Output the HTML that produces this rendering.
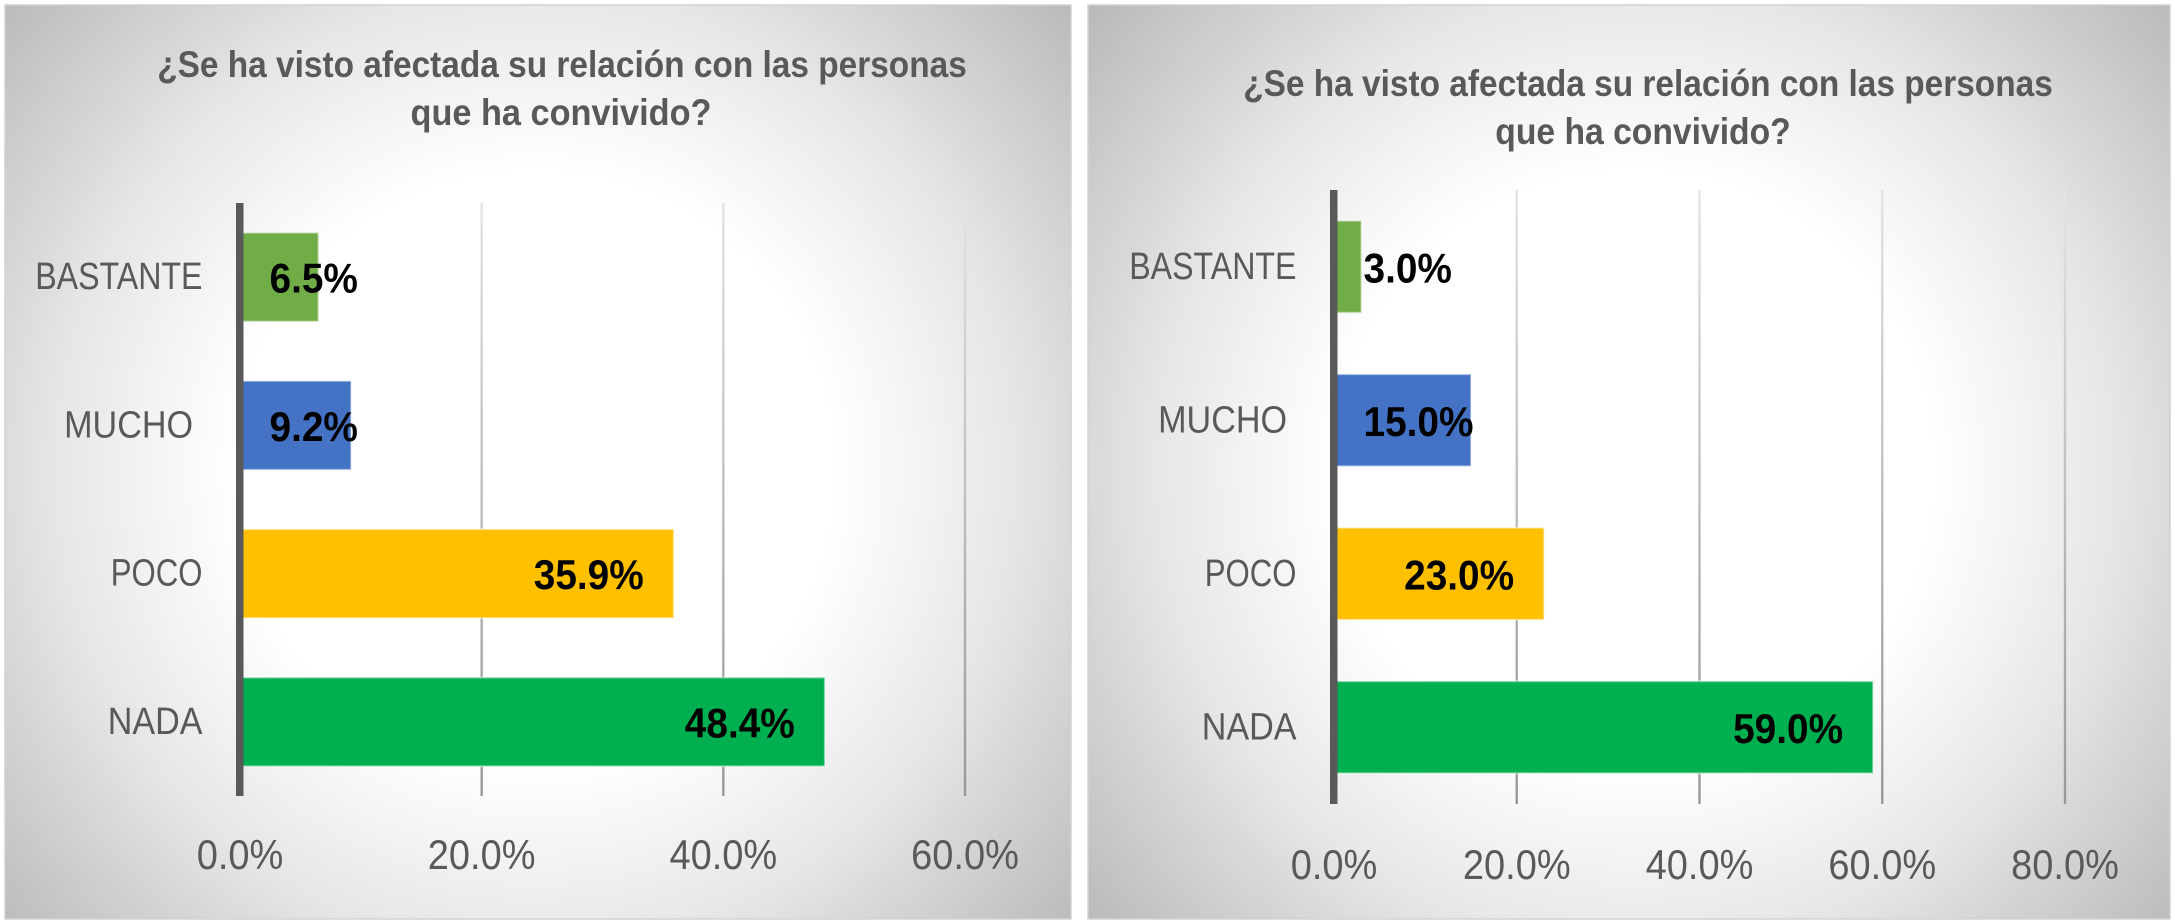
<!DOCTYPE html>
<html lang="es">
<head>
<meta charset="utf-8">
<title>¿Se ha visto afectada su relación con las personas que ha convivido?</title>
<style>
html,body{margin:0;padding:0;background:#fff;width:2175px;height:923px;overflow:hidden}
svg{display:block;font-family:"Liberation Sans",Arial,sans-serif}
</style>
</head>
<body>
<svg id="figure" xmlns="http://www.w3.org/2000/svg" width="2175" height="923" viewBox="0 0 2175 923">
<defs>
<radialGradient id="panelFillLeft" gradientUnits="userSpaceOnUse" cx="535" cy="470" r="730">
<stop offset="0" stop-color="#ffffff"/>
<stop offset="0.41" stop-color="#ffffff"/>
<stop offset="0.66" stop-color="#e6e6e6"/>
<stop offset="0.74" stop-color="#dadada"/>
<stop offset="1" stop-color="#b6b6b6"/>
</radialGradient>
<radialGradient id="panelFillRight" gradientUnits="userSpaceOnUse" cx="1635" cy="470" r="730">
<stop offset="0" stop-color="#ffffff"/>
<stop offset="0.41" stop-color="#ffffff"/>
<stop offset="0.66" stop-color="#e6e6e6"/>
<stop offset="0.74" stop-color="#dadada"/>
<stop offset="1" stop-color="#b6b6b6"/>
</radialGradient>
<linearGradient id="gridFillLeft" gradientUnits="userSpaceOnUse" x1="0" y1="203" x2="0" y2="796">
<stop offset="0" stop-color="#e4e4e4"/>
<stop offset="1" stop-color="#989898"/>
</linearGradient>
<linearGradient id="gridFillRight" gradientUnits="userSpaceOnUse" x1="0" y1="190" x2="0" y2="804">
<stop offset="0" stop-color="#e4e4e4"/>
<stop offset="1" stop-color="#989898"/>
</linearGradient>
</defs>
<rect x="5" y="5" width="1066" height="914" fill="url(#panelFillLeft)" stroke="#d2d2d2" stroke-width="1.5"/>
<rect x="1088" y="5" width="1082" height="914" fill="url(#panelFillRight)" stroke="#d2d2d2" stroke-width="1.5"/>
<g fill="#595959" font-weight="700" font-size="37" text-anchor="middle">
<text transform="translate(562 77) scale(0.903 1)">¿Se ha visto afectada su relación con las personas</text>
<text transform="translate(561 125) scale(0.927 1)">que ha convivido?</text>
</g>
<g fill="#595959" font-weight="700" font-size="37" text-anchor="middle">
<text transform="translate(1648 96) scale(0.903 1)">¿Se ha visto afectada su relación con las personas</text>
<text transform="translate(1643 144) scale(0.91 1)">que ha convivido?</text>
</g>
<g id="leftChart"></g>
<g id="rightChart"></g>
</svg>
<script>
var categories = ["BASTANTE", "MUCHO\u00A0", "POCO", "NADA"];
var barColors = ["#70ad47", "#4472c4", "#ffc000", "#00b050"];
var leftValues = [6.5, 9.2, 35.9, 48.4];
var rightValues = [3.0, 15.0, 23.0, 59.0];
var leftTicks = [0, 20, 40, 60];
var rightTicks = [0, 20, 40, 60, 80];
var categoryGlyphStretch = { "BASTANTE": 0.846, "MUCHO": 0.898, "POCO": 0.82, "NADA": 0.898 };

var SVGNS = "http://www.w3.org/2000/svg";

function makeNode(tag, parent) {
  var node = document.createElementNS(SVGNS, tag);
  parent.appendChild(node);
  return node;
}

function drawChart(root, side, values, ticks, box, gridPaint) {
  var tickMax = ticks[ticks.length - 1];
  var x = function (v) { return box.left + (box.right - box.left) * v / tickMax; };
  var band = (box.bottom - box.top) / categories.length;
  var yCenter = function (i) { return box.top + band * (i + 0.5); };
  var barHeight = band * 0.6;

  ticks.forEach(function (t) {
    if (t === 0) return;
    var grid = makeNode("rect", root);
    
    
    grid.setAttribute("x", x(t) - 1.2);
    grid.setAttribute("y", box.top);
    grid.setAttribute("width", 2.4);
    grid.setAttribute("height", box.bottom - box.top);
    grid.setAttribute("fill", gridPaint);
  });

  values.forEach(function (v, i) {
    var bar = makeNode("rect", root);
    
    
    bar.setAttribute("x", x(0));
    bar.setAttribute("y", yCenter(i) - barHeight / 2);
    bar.setAttribute("width", x(v) - x(0));
    bar.setAttribute("height", barHeight);
    bar.setAttribute("fill", barColors[i]);
    var edge = makeNode("rect", root);
    
    
    edge.setAttribute("x", x(0));
    edge.setAttribute("y", yCenter(i) - barHeight / 2);
    edge.setAttribute("width", x(v) - x(0));
    edge.setAttribute("height", barHeight);
    edge.setAttribute("fill", "none");
    edge.setAttribute("stroke", "#ffffff");
    edge.setAttribute("stroke-opacity", "0.45");
    edge.setAttribute("stroke-width", "2");
  });

  var axis = makeNode("rect", root);
  
  
  axis.setAttribute("x", x(0) - 4);
  axis.setAttribute("y", box.top);
  axis.setAttribute("width", 7.5);
  axis.setAttribute("height", box.bottom - box.top);
  axis.setAttribute("fill", "#595959");

  categories.forEach(function (c, i) {
    var label = makeNode("text", root);
    
    
    label.setAttribute("text-anchor", "end");
    label.setAttribute("font-size", 38);
    label.setAttribute("fill", "#595959");
    var sx = categoryGlyphStretch[c.trim()] || 0.86;
    label.setAttribute("transform", "translate(" + (x(0) - 37.5) + " " + (yCenter(i) + 12) + ") scale(" + sx + " 1)");
    label.textContent = c;
  });

  ticks.forEach(function (t) {
    var tick = makeNode("text", root);
    
    
    tick.setAttribute("text-anchor", "middle");
    tick.setAttribute("font-size", 42);
    tick.setAttribute("fill", "#595959");
    tick.setAttribute("transform", "translate(" + x(t) + " " + box.tickBaseline + ") scale(0.905 1)");
    tick.textContent = t.toFixed(1) + "%";
  });

  values.forEach(function (v, i) {
    var val = makeNode("text", root);
    
    
    val.setAttribute("text-anchor", "start");
    val.setAttribute("font-size", 42);
    val.setAttribute("font-weight", "700");
    val.setAttribute("fill", "#000000");
    val.textContent = v.toFixed(1) + "%";
    var sx = 0.924;
    var width = val.getComputedTextLength() * sx;
    var start = Math.max(x(0) + 29.5, x(v) - 30 - width);
    val.setAttribute("transform", "translate(" + start + " " + (yCenter(i) + 15.5) + ") scale(" + sx + " 1)");
  });
}

drawChart(document.getElementById("leftChart"), "left", leftValues, leftTicks,
  { left: 240, right: 965, top: 203, bottom: 796, tickBaseline: 869 }, "url(#gridFillLeft)");
drawChart(document.getElementById("rightChart"), "right", rightValues, rightTicks,
  { left: 1334, right: 2065, top: 190, bottom: 804, tickBaseline: 879 }, "url(#gridFillRight)");
</script>
</body>
</html>
